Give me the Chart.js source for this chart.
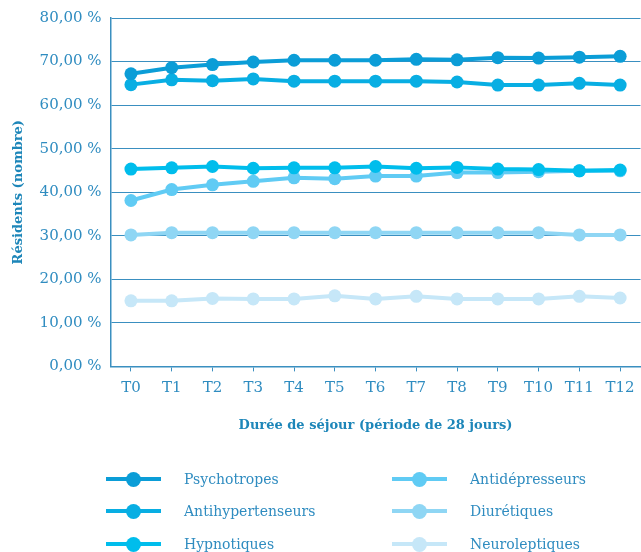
<!DOCTYPE html>
<html>
<head>
<meta charset="utf-8">
<script src="https://cdn.jsdelivr.net/npm/chart.js@4"></script>
<style>
html,body{margin:0;padding:0;background:#fff;}
#wrap{position:relative;width:641px;height:552px;overflow:hidden;}
#chartBox{position:absolute;left:0;top:0;width:647px;height:442px;}
#legend{position:absolute;left:0;top:0;width:641px;height:552px;pointer-events:none;}
.item{position:absolute;height:20px;font-family:"DejaVu Serif",serif;font-size:14px;color:#2f8cc0;}
.sym{position:absolute;left:0;top:8px;width:55px;height:4px;}
.dot{position:absolute;left:20px;top:2.5px;width:15px;height:15px;border-radius:50%;}
.lab{position:absolute;left:78px;top:0;line-height:20px;white-space:nowrap;}
</style>
</head>
<body>
<div id="wrap">
  <div id="chartBox"><canvas id="c"></canvas></div>
  <div id="legend"></div>
</div>
<script>
const categories = ["T0","T1","T2","T3","T4","T5","T6","T7","T8","T9","T10","T11","T12"];
const yTickLabels = ["0,00 %","10,00 %","20,00 %","30,00 %","40,00 %","50,00 %","60,00 %","70,00 %","80,00 %"];
const seriesNames = ["Psychotropes","Antihypertenseurs","Hypnotiques","Antidépresseurs","Diurétiques","Neuroleptiques"];
const psychotropes      = [67.2, 68.6, 69.3, 69.9, 70.3, 70.3, 70.3, 70.5, 70.4, 70.9, 70.8, 71.0, 71.2];
const antihypertenseurs = [64.7, 65.8, 65.6, 66.0, 65.5, 65.5, 65.5, 65.5, 65.3, 64.6, 64.6, 65.0, 64.6];
const hypnotiques       = [45.3, 45.6, 45.9, 45.5, 45.6, 45.6, 45.9, 45.5, 45.7, 45.3, 45.2, 44.9, 45.1];
const antidepresseurs   = [38.1, 40.6, 41.7, 42.5, 43.3, 43.1, 43.7, 43.7, 44.5, 44.5, 44.7, 44.9, 44.9];
const diuretiques       = [30.2, 30.7, 30.7, 30.7, 30.7, 30.7, 30.7, 30.7, 30.7, 30.7, 30.7, 30.2, 30.2];
const neuroleptiques    = [15.05, 15.05, 15.6, 15.5, 15.5, 16.2, 15.5, 16.1, 15.5, 15.5, 15.5, 16.1, 15.7];
const seriesColors = ["#0b9dd7","#08aee3","#00bdec","#60cbf4","#8fd6f4","#c6e7f8"];

const allSeries = [psychotropes, antihypertenseurs, hypnotiques, antidepresseurs, diuretiques, neuroleptiques];
const axisColor = "#3a8fc0";
const textColor = "#2f8cc0";
const titleColor = "#1d86b9";
const FONT = "'DejaVu Serif', serif";

const datasets = allSeries.map((d, i) => ({
  label: seriesNames[i],
  data: d,
  borderColor: seriesColors[i],
  backgroundColor: seriesColors[i],
  borderWidth: 4,
  pointRadius: 6.5,
  pointHoverRadius: 6.5,
  pointBorderWidth: 0,
  tension: 0
}));

new Chart(document.getElementById('c'), {
  type: 'line',
  data: { labels: categories, datasets },
  options: {
    responsive: true,
    maintainAspectRatio: false,
    animation: false,
    events: [],
    layout: { padding: { top: 17, right: 0, left: 0, bottom: 0 } },
    plugins: { legend: { display: false }, tooltip: { enabled: false } },
    scales: {
      x: {
        offset: true,
        grid: { drawOnChartArea: false, drawTicks: true, tickLength: 5, offset: false, color: axisColor, lineWidth: 1 },
        border: { display: true, color: axisColor, width: 1.5 },
        ticks: { color: textColor, font: { family: FONT, size: 15 }, padding: 8, maxRotation: 0, autoSkip: false },
        title: { display: true, text: "Durée de séjour (période de 28 jours)", color: titleColor,
                 font: { family: FONT, size: 13, weight: 'bold' }, padding: { top: 12, bottom: 9 } }
      },
      y: {
        min: 0, max: 80,
        ticks: { stepSize: 10, color: textColor, font: { family: FONT, size: 15 }, padding: 9,
                 callback: (v) => yTickLabels[Math.round(v / 10)] },
        grid: { color: axisColor, lineWidth: 1, drawTicks: false },
        border: { display: true, color: axisColor, width: 1.5 },
        title: { display: true, text: "Résidents (nombre)", color: titleColor,
                 font: { family: FONT, size: 13, weight: 'bold' }, padding: { top: 11, bottom: 4 } }
      }
    }
  }
});

// HTML legend (two columns)
const legendPos = [
  [106, 469], [106, 501], [106, 534],
  [392, 469], [392, 501], [392, 534]
];
const leg = document.getElementById('legend');
seriesNames.forEach((name, i) => {
  const it = document.createElement('div');
  it.className = 'item';
  it.style.left = legendPos[i][0] + 'px';
  it.style.top = legendPos[i][1] + 'px';
  it.innerHTML = '<div class="sym" style="background:' + seriesColors[i] + '"></div>' +
                 '<div class="dot" style="background:' + seriesColors[i] + '"></div>' +
                 '<div class="lab">' + name + '</div>';
  leg.appendChild(it);
});
</script>
</body>
</html>
